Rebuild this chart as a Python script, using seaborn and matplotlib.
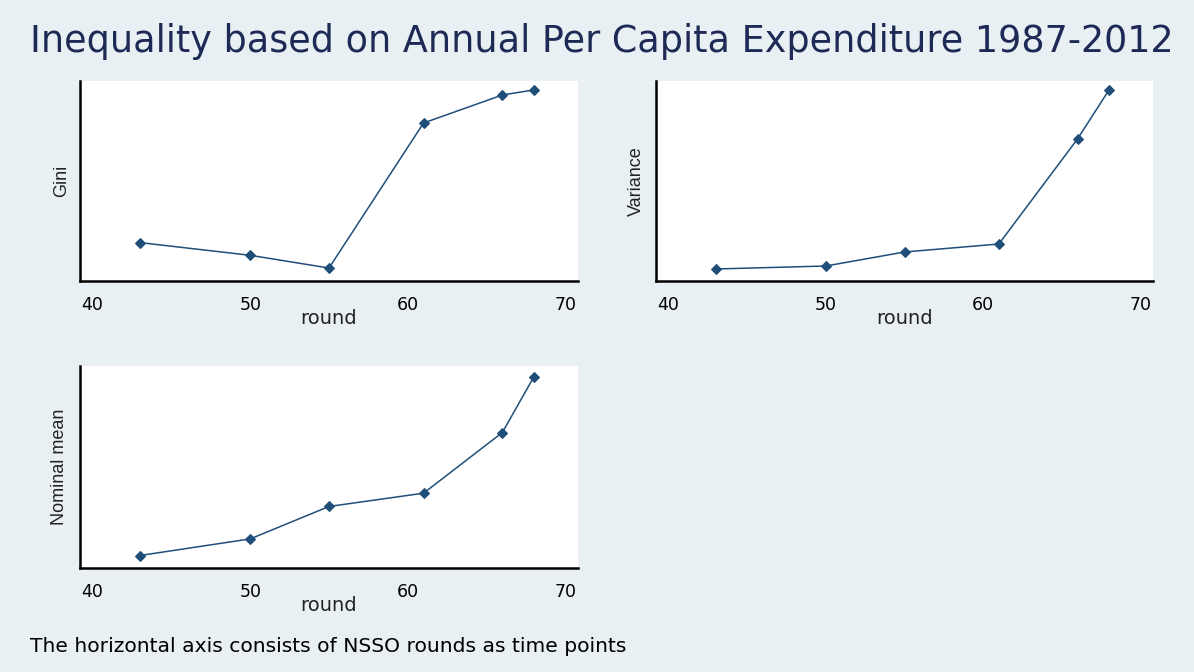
import numpy as np
import pandas as pd
import seaborn as sns
import matplotlib.pyplot as plt

sns.set_style("white")
plt.rcParams['font.family'] = ['DejaVu Sans']

# NSSO rounds (time points)
rounds = [43, 50, 55, 61, 66, 68]
# values (the y axes carry no scale)
gini = [0.300, 0.295, 0.290, 0.347, 0.358, 0.360]
variance = [1.2, 1.5, 2.9, 3.7, 14.2, 19.1]
nominal_mean = [1500, 3500, 7400, 9000, 16300, 23000]

df = pd.DataFrame({'round': rounds, 'Gini': gini, 'Variance': variance,
                   'Nominal mean': nominal_mean})

bg = '#e8f0f3'
line_col = '#1f4e79'
W, H = 1194, 672

fig = plt.figure(figsize=(W / 100, H / 100), dpi=100, facecolor=bg)


def box(l, t, r, b):
    return [l / W, 1 - b / H, (r - l) / W, (b - t) / H]


panels = [
    ('Gini', box(80, 81, 578, 281), (0.2849, 0.3635), 62),
    ('Variance', box(656, 81, 1153, 281), (0, 20.0), 636),
    ('Nominal mean', box(80, 366, 578, 568), (0, 24300), 60),
]

for col, rect, ylim, ylab_x in panels:
    ax = fig.add_axes(rect)
    ax.set_facecolor('white')
    sns.lineplot(data=df, x='round', y=col, ax=ax, color=line_col,
                 linewidth=1.1, marker='D', markersize=5,
                 markeredgecolor=line_col, markerfacecolor=line_col)
    ax.set_xlim(39.2, 70.8)
    ax.set_ylim(*ylim)
    ax.set_xticks([40, 50, 60, 70])
    ax.set_yticks([])
    ax.tick_params(axis='x', direction='out', length=4, width=1.2,
                   color='black', labelsize=12.5, pad=7, labelcolor='black')
    for s in ['top', 'right']:
        ax.spines[s].set_visible(False)
    for s in ['left', 'bottom']:
        ax.spines[s].set_color('black')
        ax.spines[s].set_linewidth(1.8)
    ax.set_xlabel('round', fontsize=14, labelpad=-4, color='#222222')
    ax.set_ylabel('')
    y0 = rect[1] + rect[3] / 2
    fig.text(ylab_x / W, y0, col, rotation=90, ha='center', va='center',
             fontsize=13, color='#222222', family=['Liberation Sans'])

fig.text(602 / W, 1 - 41 / H,
         'Inequality based on Annual Per Capita Expenditure 1987-2012',
         ha='center', va='center', fontsize=26.3, color='#1e2a55')
fig.text(30 / W, 1 - 647 / H,
         'The horizontal axis consists of NSSO rounds as time points',
         ha='left', va='center', fontsize=14.6, color='black')

fig.savefig('out.png', dpi=100, facecolor=bg)
